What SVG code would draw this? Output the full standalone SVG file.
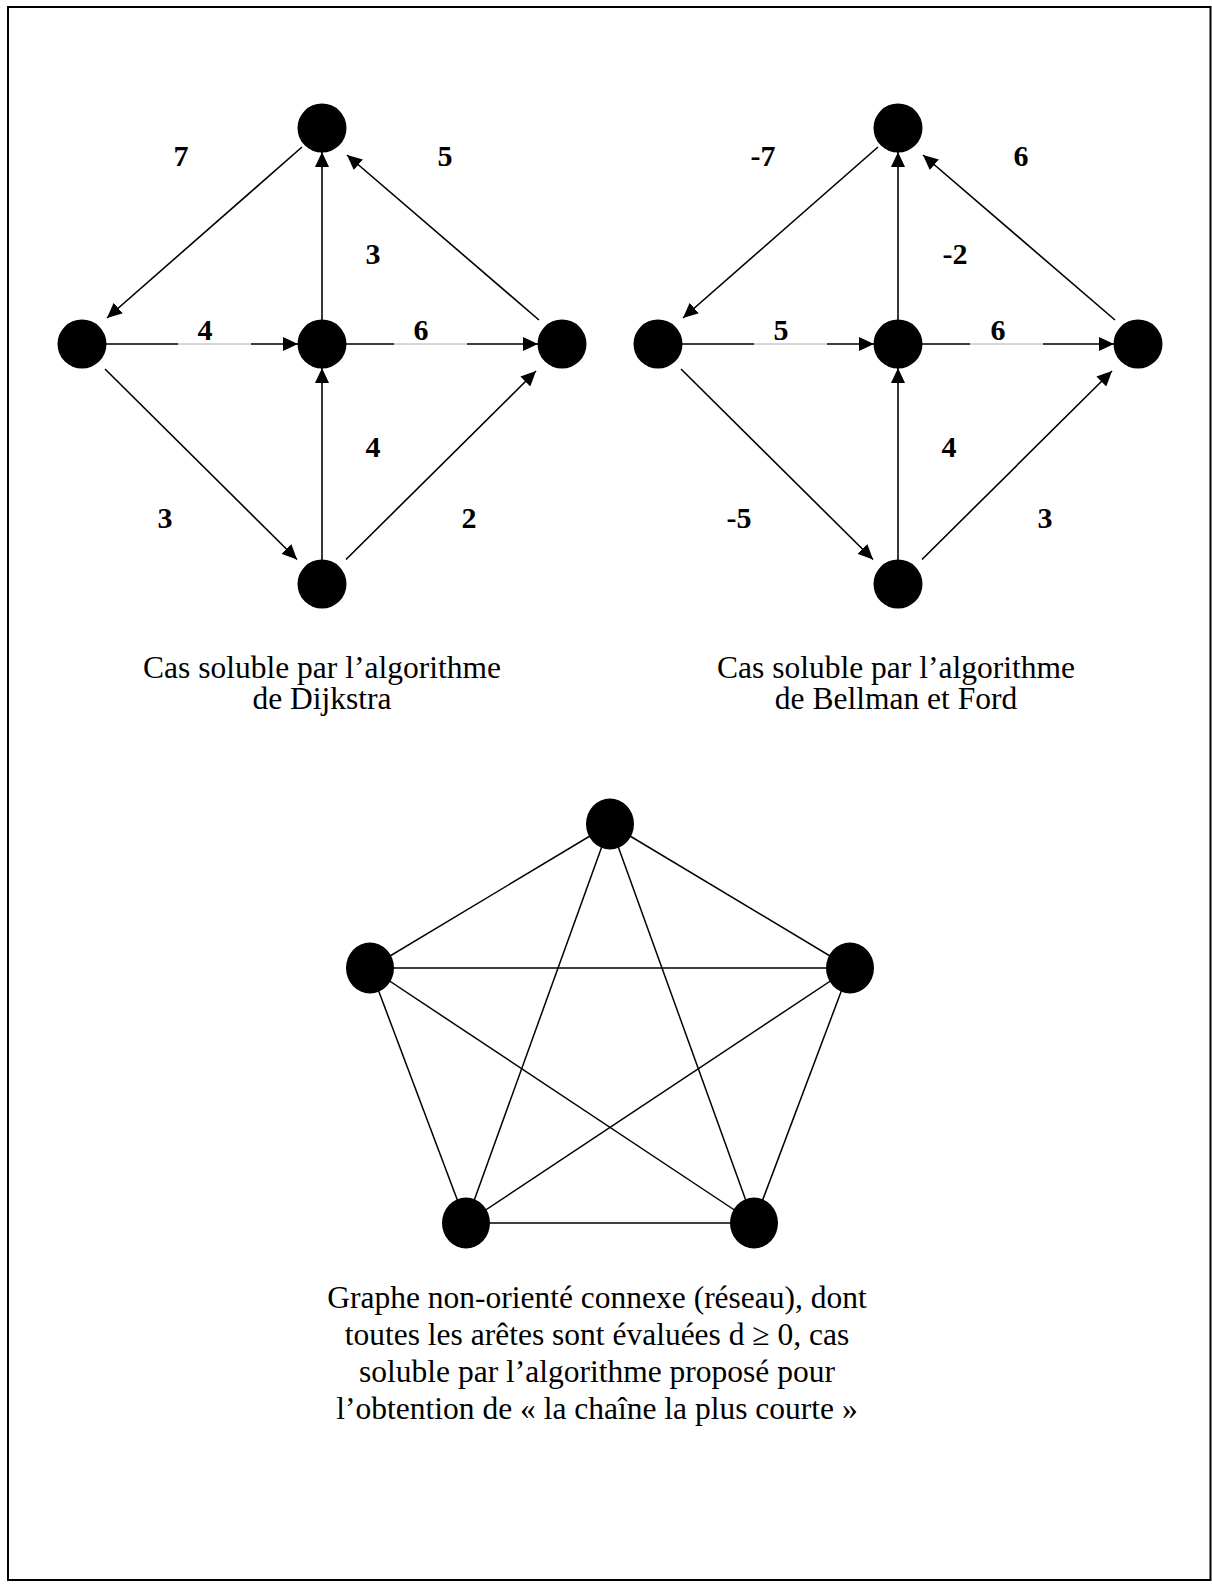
<svg xmlns="http://www.w3.org/2000/svg" width="1212" height="1586" viewBox="0 0 1212 1586">
<style>
.e{stroke:#000;stroke-width:1.6;fill:none}
.a{marker-end:url(#arr)}
.thin{stroke:#9a9a9a;stroke-width:0.8;fill:none}
.pe{stroke:#000;stroke-width:1.5;fill:none}
.n{fill:#000}
.lbl{font-family:"Liberation Serif","Times New Roman",serif;font-weight:bold;font-size:30px;text-anchor:middle;fill:#000}
.cap{font-family:"Liberation Serif","Times New Roman",serif;font-size:31.5px;text-anchor:middle;fill:#000}
</style>
<defs>
<marker id="arr" markerUnits="userSpaceOnUse" viewBox="0 0 15 14" refX="15" refY="7" markerWidth="15" markerHeight="14" orient="auto">
<path d="M0,0 L15,7 L0,14 z" fill="#000"/>
</marker>
</defs>
<rect x="8" y="7" width="1202.5" height="1573" fill="#fff" stroke="#000" stroke-width="2"/>

<g id="connectors">
<!-- Dijkstra graph -->
<path class="e a" d="M302,147 L107,318"/>
<path class="e a" d="M322,320 L322,152"/>
<path class="e a" d="M539,320 L347,155"/>
<path class="e" d="M106,344 L178,344"/>
<path class="thin" d="M178,344 L251,344"/>
<path class="e a" d="M251,344 L298,344"/>
<path class="e" d="M346,344 L394,344"/>
<path class="thin" d="M394,344 L467,344"/>
<path class="e a" d="M467,344 L538,344"/>
<path class="e a" d="M105,369 L297,559.5"/>
<path class="e a" d="M322,560 L322,368"/>
<path class="e a" d="M346,559.5 L536,371"/>
<!-- Bellman-Ford graph -->
<path class="e a" d="M878,147 L683,318"/>
<path class="e a" d="M898,320 L898,152"/>
<path class="e a" d="M1115,320 L923,155"/>
<path class="e" d="M682,344 L754,344"/>
<path class="thin" d="M754,344 L827,344"/>
<path class="e a" d="M827,344 L874,344"/>
<path class="e" d="M922,344 L970,344"/>
<path class="thin" d="M970,344 L1043,344"/>
<path class="e a" d="M1043,344 L1114,344"/>
<path class="e a" d="M681,369 L873,559.5"/>
<path class="e a" d="M898,560 L898,368"/>
<path class="e a" d="M922,559.5 L1112,371"/>
<!-- Complete graph -->
<path class="pe" d="M610,824 L370,968"/>
<path class="pe" d="M610,824 L850,968"/>
<path class="pe" d="M610,824 L466,1223"/>
<path class="pe" d="M610,824 L754,1223"/>
<path class="pe" d="M370,968 L850,968"/>
<path class="pe" d="M370,968 L466,1223"/>
<path class="pe" d="M370,968 L754,1223"/>
<path class="pe" d="M850,968 L466,1223"/>
<path class="pe" d="M850,968 L754,1223"/>
<path class="pe" d="M466,1223 L754,1223"/>
</g>

<g id="labels-dijkstra">
<text class="lbl" x="181" y="166">7</text>
<text class="lbl" x="445" y="166">5</text>
<text class="lbl" x="373" y="264">3</text>
<text class="lbl" x="205" y="340">4</text>
<text class="lbl" x="421" y="340">6</text>
<text class="lbl" x="373" y="457">4</text>
<text class="lbl" x="165" y="528">3</text>
<text class="lbl" x="469" y="528">2</text>
</g>
<g id="labels-bellman">
<text class="lbl" x="763" y="166">-7</text>
<text class="lbl" x="1021" y="166">6</text>
<text class="lbl" x="955" y="264">-2</text>
<text class="lbl" x="781" y="340">5</text>
<text class="lbl" x="998" y="340">6</text>
<text class="lbl" x="949" y="457">4</text>
<text class="lbl" x="739" y="528">-5</text>
<text class="lbl" x="1045" y="528">3</text>
</g>

<g id="d-top"><circle class="n" cx="322" cy="128" r="24.5"/></g>
<g id="d-left"><circle class="n" cx="82" cy="344" r="24.5"/></g>
<g id="d-center"><circle class="n" cx="322" cy="344" r="24.5"/></g>
<g id="d-right"><circle class="n" cx="562" cy="344" r="24.5"/></g>
<g id="d-bottom"><circle class="n" cx="322" cy="584" r="24.5"/></g>

<g id="b-top"><circle class="n" cx="898" cy="128" r="24.5"/></g>
<g id="b-left"><circle class="n" cx="658" cy="344" r="24.5"/></g>
<g id="b-center"><circle class="n" cx="898" cy="344" r="24.5"/></g>
<g id="b-right"><circle class="n" cx="1138" cy="344" r="24.5"/></g>
<g id="b-bottom"><circle class="n" cx="898" cy="584" r="24.5"/></g>

<g id="p-top"><ellipse class="n" cx="610" cy="824" rx="24" ry="25.5"/></g>
<g id="p-left"><ellipse class="n" cx="370" cy="968" rx="24" ry="25.5"/></g>
<g id="p-right"><ellipse class="n" cx="850" cy="968" rx="24" ry="25.5"/></g>
<g id="p-bottomleft"><ellipse class="n" cx="466" cy="1223" rx="24" ry="25.5"/></g>
<g id="p-bottomright"><ellipse class="n" cx="754" cy="1223" rx="24" ry="25.5"/></g>

<g id="caption-dijkstra">
<text class="cap" x="322" y="678">Cas soluble par l’algorithme</text>
<text class="cap" x="322" y="709">de Dijkstra</text>
</g>
<g id="caption-bellman">
<text class="cap" x="896" y="678">Cas soluble par l’algorithme</text>
<text class="cap" x="896" y="709">de Bellman et Ford</text>
</g>
<g id="caption-network">
<text class="cap" x="597" y="1308">Graphe non-orienté connexe (réseau), dont</text>
<text class="cap" x="597" y="1345">toutes les arêtes sont évaluées d ≥ 0, cas</text>
<text class="cap" x="597" y="1382">soluble par l’algorithme proposé pour</text>
<text class="cap" x="597" y="1419">l’obtention de « la chaîne la plus courte »</text>
</g>
</svg>
